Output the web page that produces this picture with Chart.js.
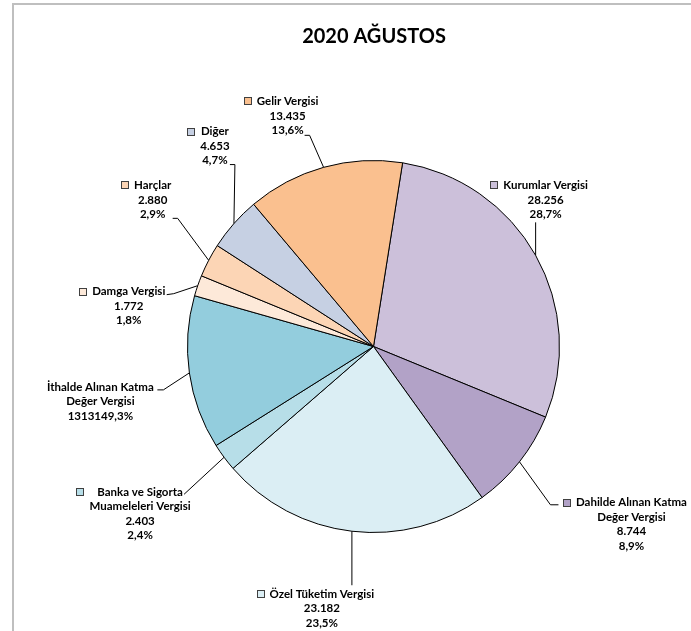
<!DOCTYPE html>
<html>
<head>
<meta charset="utf-8">
<script src="https://cdn.jsdelivr.net/npm/chart.js@4"></script>
<style>
  body { margin: 0; background: #fff; }
  #wrap { position: relative; width: 691px; height: 631px; overflow: hidden; }
  #frame { position: absolute; left: 12px; top: 3px; width: 800px; height: 800px;
           border-top: 2px solid #bfbfbf; border-left: 2px solid #bfbfbf; }
  canvas { position: absolute; left: 0; top: 0; }
</style>
</head>
<body>
<div id="wrap">
  <div id="frame"></div>
  <canvas id="pieChart" width="691" height="631"></canvas>
</div>
<script>
// Data
const chartTitle = '2020 AĞUSTOS';
const categories = ['Kurumlar Vergisi', 'Dahilde Alınan Katma Değer Vergisi', 'Özel Tüketim Vergisi',
    'Banka ve Sigorta Muameleleri Vergisi', 'İthalde Alınan Katma Değer Vergisi', 'Damga Vergisi',
    'Harçlar', 'Diğer', 'Gelir Vergisi'];
const values = [28256, 8744, 23182, 2403, 13131, 1772, 2880, 4653, 13435];
const nameLines = [
    ['Kurumlar Vergisi'],
    ['Dahilde Alınan Katma', 'Değer Vergisi'],
    ['Özel Tüketim Vergisi'],
    ['Banka ve Sigorta', 'Muameleleri Vergisi'],
    ['İthalde Alınan Katma', 'Değer Vergisi'],
    ['Damga Vergisi'],
    ['Harçlar'],
    ['Diğer'],
    ['Gelir Vergisi']
];
const valueTexts = ['28.256', '8.744', '23.182', '2.403', '1313149,3%', '1.772', '2.880', '4.653', '13.435'];
const percentTexts = ['28,7%', '8,9%', '23,5%', '2,4%', '', '1,8%', '2,9%', '4,7%', '13,6%'];

// Colors
const sliceColors = ['#CCC0DA', '#B2A2C7', '#DBEEF4', '#B7DEE8', '#93CDDD', '#FDE9D9', '#FCD5B5', '#C6D0E3', '#FAC08F'];

// Label placement, offsets from the slice's outer midpoint
const labelPlacement = [
    { text: [10, -70], elbow: [0, -33], end: [0, -33], key: true },
    { text: [112, 41], elbow: [31, 43], end: [39, 43], key: true },
    { text: [-30, 63], elbow: [0, 54], end: [0, 54], key: true },
    { text: [-84, 35], elbow: [-40, 37], end: [-40, 37], key: true },
    { text: [-89, 14], elbow: [-26, 17], end: [-32, 17], key: false },
    { text: [-69, 6], elbow: [-24, 8], end: [-31, 9], key: true },
    { text: [-56, -75], elbow: [-31, -42], end: [-36, -42], key: true },
    { text: [-19, -92], elbow: [1, -59], end: [-4, -59], key: true },
    { text: [-36, -66], elbow: [-14, -32], end: [-19, -32], key: true }
];

const labelFont = 'bold 11.5px Lato';
const lineGap = 14.5;

const pieLabels = {
    id: 'pieLabels',
    afterDatasetsDraw(chart) {
        const ctx = chart.ctx;
        const arcs = chart.getDatasetMeta(0).data;
        ctx.save();

        // title
        ctx.fillStyle = '#000';
        ctx.font = 'bold 20px Lato';
        ctx.textAlign = 'center';
        ctx.textBaseline = 'middle';
        ctx.fillText(chartTitle, 374, 37);

        ctx.font = labelFont;
        arcs.forEach((arc, i) => {
            const p = arc.getProps(['x', 'y', 'startAngle', 'endAngle', 'outerRadius'], true);
            const mid = (p.startAngle + p.endAngle) / 2;
            const ax = p.x + Math.cos(mid) * p.outerRadius;
            const ay = p.y + Math.sin(mid) * p.outerRadius;
            const pl = labelPlacement[i];

            // leader line
            ctx.strokeStyle = '#000';
            ctx.lineWidth = 1;
            ctx.beginPath();
            ctx.moveTo(ax, ay);
            ctx.lineTo(ax + pl.elbow[0], ay + pl.elbow[1]);
            ctx.lineTo(ax + pl.end[0], ay + pl.end[1]);
            ctx.stroke();

            // text block
            const lines = [...nameLines[i], valueTexts[i], percentTexts[i]].filter(s => s);
            const tx = ax + pl.text[0];
            const ty = ay + pl.text[1];
            ctx.fillStyle = '#000';
            lines.forEach((s, k) => ctx.fillText(s, tx, ty + k * lineGap));

            // legend key
            if (pl.key) {
                const w = Math.max(...lines.map(s => ctx.measureText(s).width));
                const kx = Math.round(tx - w / 2 - 13) + 0.5;
                const ky = Math.round(ty - 4) + 0.5;
                ctx.fillStyle = sliceColors[i];
                ctx.fillRect(kx, ky, 7, 7);
                ctx.strokeStyle = '#404040';
                ctx.strokeRect(kx, ky, 7, 7);
            }
        });
        ctx.restore();
    }
};

const pieCtx = document.getElementById('pieChart').getContext('2d');
const pieChart = new Chart(pieCtx, {
    type: 'pie',
    data: {
        labels: categories,
        datasets: [{
            data: values,
            backgroundColor: sliceColors,
            borderColor: '#000',
            borderWidth: 1
        }]
    },
    options: {
        responsive: false,
        animation: false,
        rotation: 9,
        layout: {
            padding: { left: 187, right: 131, top: 160, bottom: 98 }
        },
        plugins: {
            legend: { display: false },
            tooltip: { enabled: false },
            title: { display: false }
        }
    },
    plugins: [pieLabels]
});
</script>
</body>
</html>
